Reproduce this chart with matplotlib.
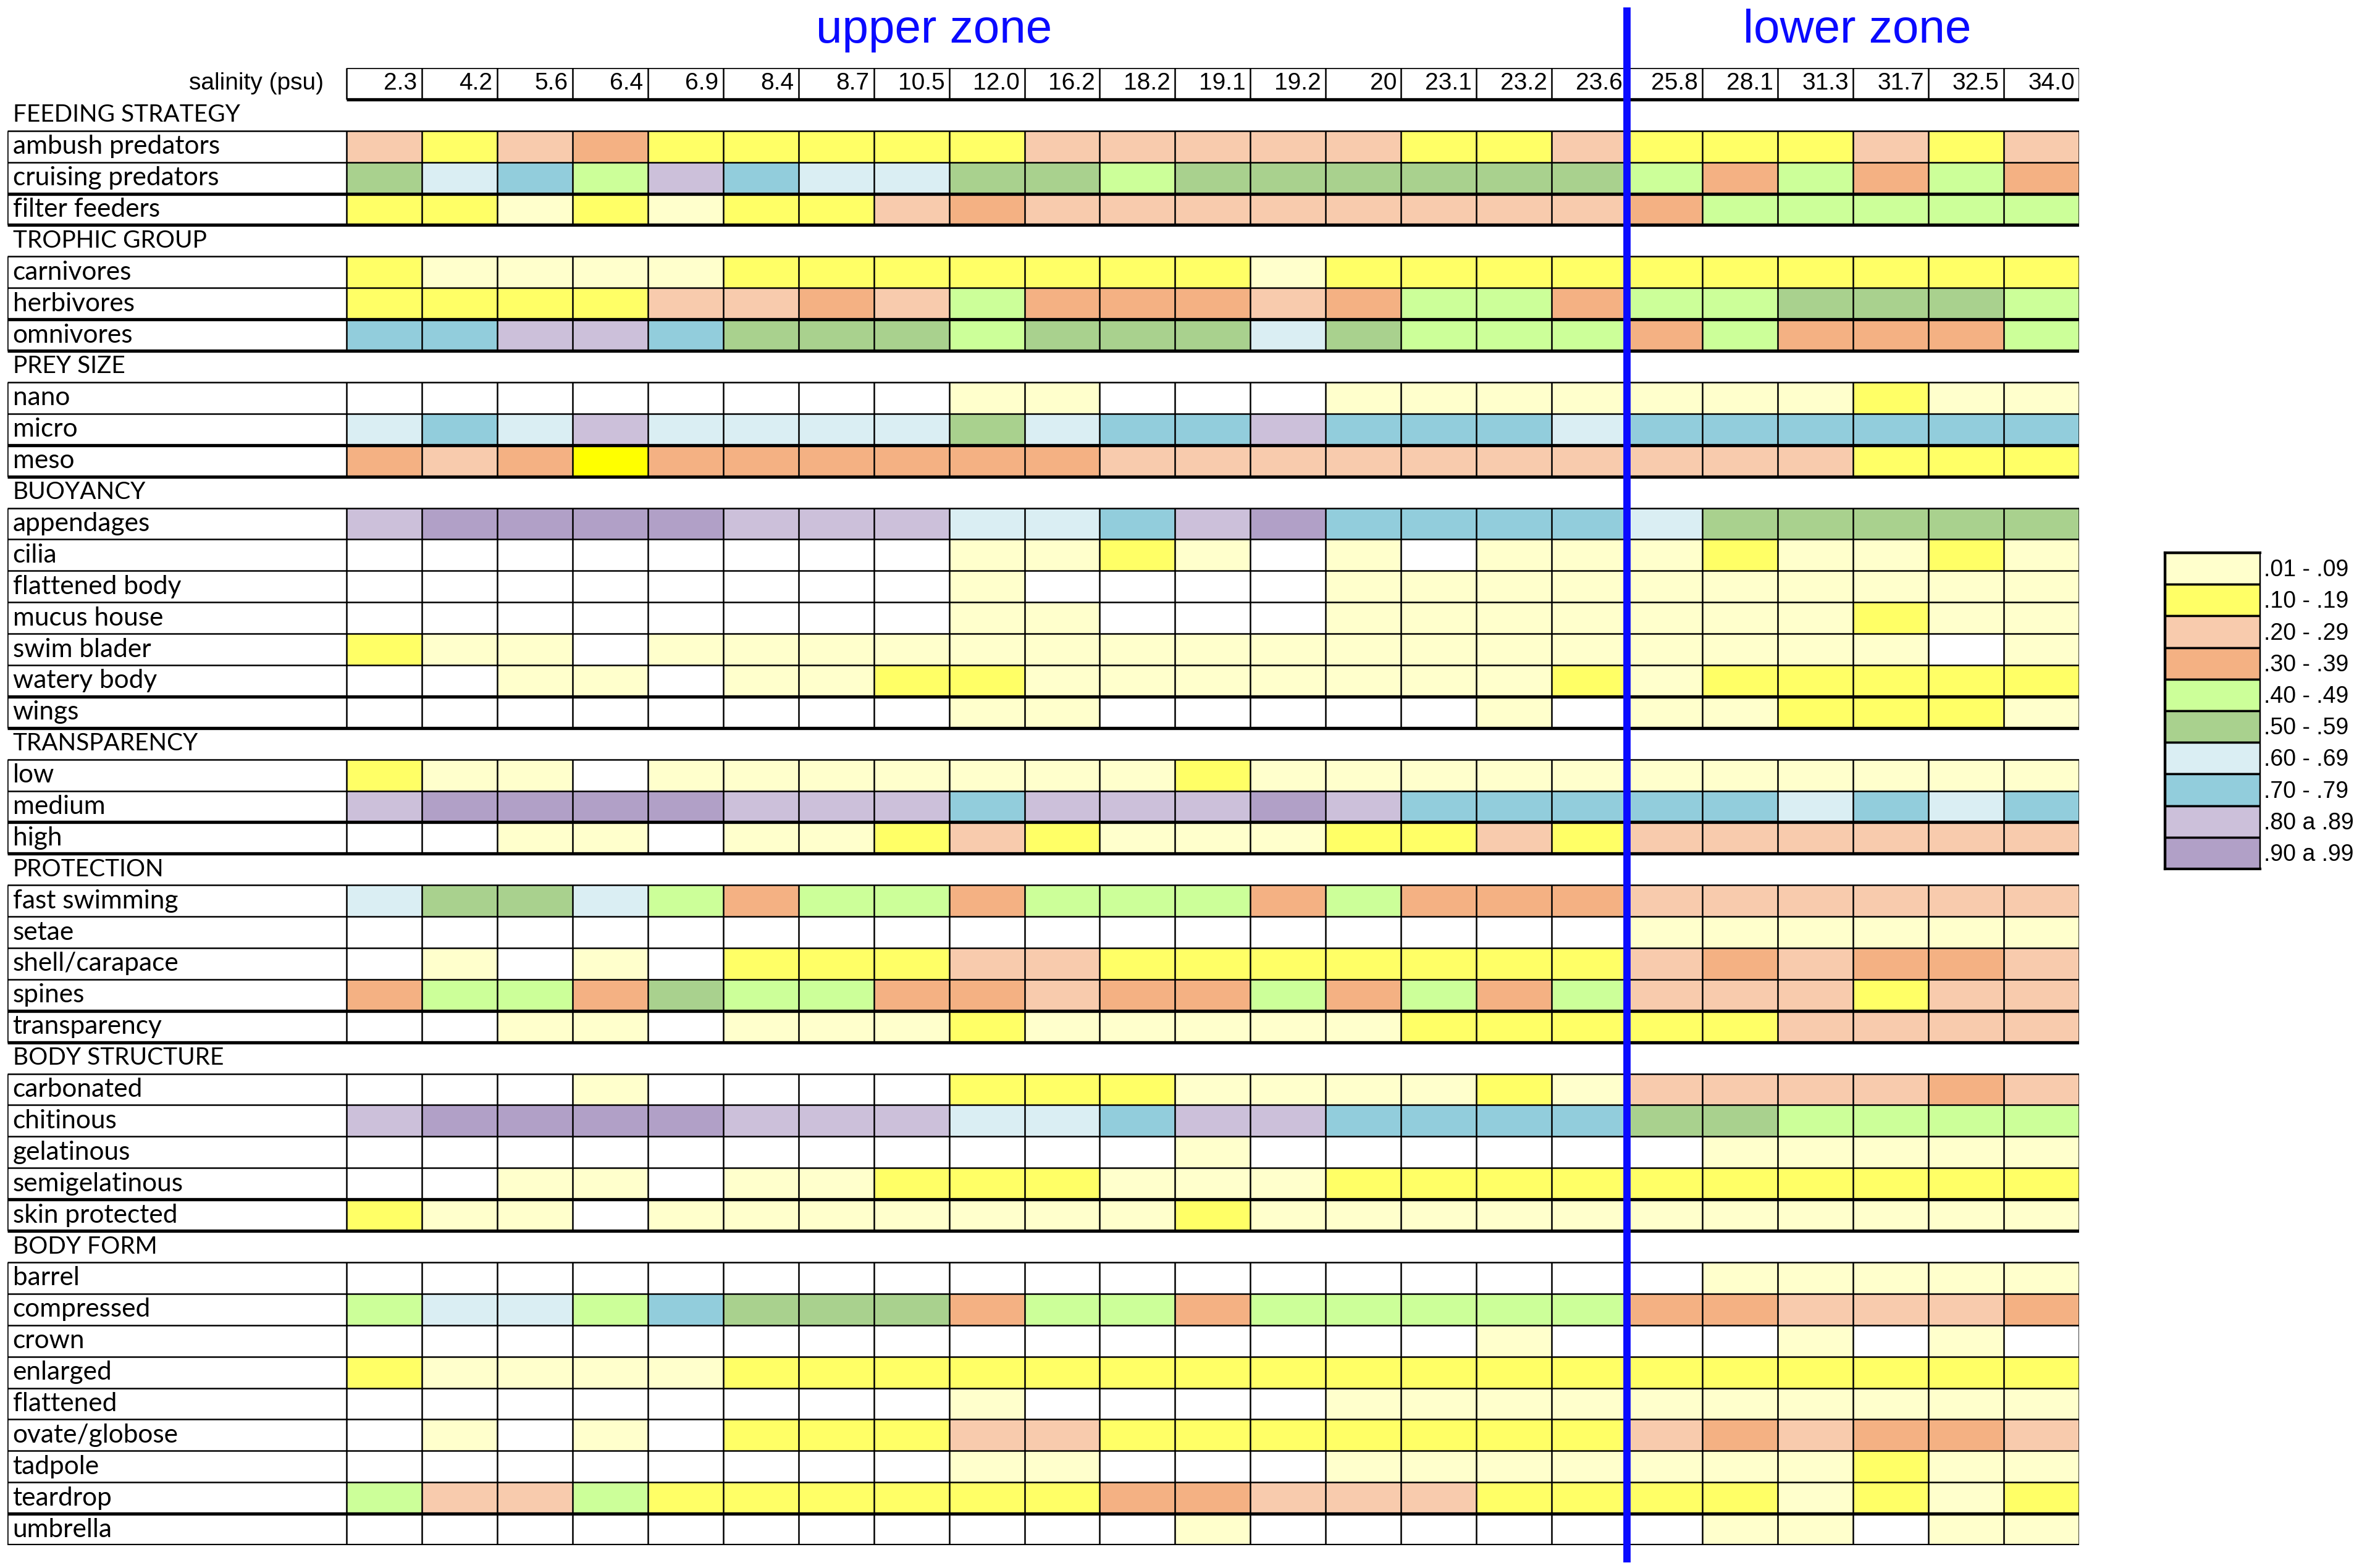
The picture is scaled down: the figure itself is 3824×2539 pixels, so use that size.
import numpy as np
import matplotlib
matplotlib.use("Agg")
import matplotlib.pyplot as plt
from matplotlib.colors import ListedColormap, BoundaryNorm

# salinity columns (psu)
salinity = ["2.3", "4.2", "5.6", "6.4", "6.9", "8.4", "8.7", "10.5", "12.0", "16.2", "18.2",
            "19.1", "19.2", "20", "23.1", "23.2", "23.6", "25.8", "28.1", "31.3", "31.7",
            "32.5", "34.0"]

# class codes: 0 = empty, 1 = .01-.09 ... 10 = .90-.99, 11 = odd bright yellow cell
class_labels = [".01 - .09", ".10 - .19", ".20 - .29", ".30 - .39", ".40 - .49",
                ".50 - .59", ".60 - .69", ".70 - .79", ".80 a .89", ".90 a .99"]
class_colors = ["#FFFFCC", "#FFFF66", "#F8CBAD", "#F4B183", "#CCFF99",
                "#A9D18E", "#DAEEF3", "#92CDDC", "#CCC0DA", "#B1A0C7"]

feeding_rows = ["ambush predators", "cruising predators", "filter feeders"]
feeding_vals = [
    [3, 2, 3, 4, 2, 2, 2, 2, 2, 3, 3, 3, 3, 3, 2, 2, 3, 2, 2, 2, 3, 2, 3],
    [6, 7, 8, 5, 9, 8, 7, 7, 6, 6, 5, 6, 6, 6, 6, 6, 6, 5, 4, 5, 4, 5, 4],
    [2, 2, 1, 2, 1, 2, 2, 3, 4, 3, 3, 3, 3, 3, 3, 3, 3, 4, 5, 5, 5, 5, 5],
]

trophic_rows = ["carnivores", "herbivores", "omnivores"]
trophic_vals = [
    [2, 1, 1, 1, 1, 2, 2, 2, 2, 2, 2, 2, 1, 2, 2, 2, 2, 2, 2, 2, 2, 2, 2],
    [2, 2, 2, 2, 3, 3, 4, 3, 5, 4, 4, 4, 3, 4, 5, 5, 4, 5, 5, 6, 6, 6, 5],
    [8, 8, 9, 9, 8, 6, 6, 6, 5, 6, 6, 6, 7, 6, 5, 5, 5, 4, 5, 4, 4, 4, 5],
]

prey_rows = ["nano", "micro", "meso"]
prey_vals = [
    [0, 0, 0, 0, 0, 0, 0, 0, 1, 1, 0, 0, 0, 1, 1, 1, 1, 1, 1, 1, 2, 1, 1],
    [7, 8, 7, 9, 7, 7, 7, 7, 6, 7, 8, 8, 9, 8, 8, 8, 7, 8, 8, 8, 8, 8, 8],
    [4, 3, 4, 11, 4, 4, 4, 4, 4, 4, 3, 3, 3, 3, 3, 3, 3, 3, 3, 3, 2, 2, 2],
]

buoy_rows = ["appendages", "cilia", "flattened body", "mucus house", "swim blader",
             "watery body", "wings"]
buoy_vals = [
    [9, 10, 10, 10, 10, 9, 9, 9, 7, 7, 8, 9, 10, 8, 8, 8, 8, 7, 6, 6, 6, 6, 6],
    [0, 0, 0, 0, 0, 0, 0, 0, 1, 1, 2, 1, 0, 1, 0, 1, 1, 1, 2, 1, 1, 2, 1],
    [0, 0, 0, 0, 0, 0, 0, 0, 1, 0, 0, 0, 0, 1, 1, 1, 1, 1, 1, 1, 1, 1, 1],
    [0, 0, 0, 0, 0, 0, 0, 0, 1, 1, 0, 0, 0, 1, 1, 1, 1, 1, 1, 1, 2, 1, 1],
    [2, 1, 1, 0, 1, 1, 1, 1, 1, 1, 1, 1, 1, 1, 1, 1, 1, 1, 1, 1, 1, 0, 1],
    [0, 0, 1, 1, 0, 1, 1, 2, 2, 1, 1, 1, 1, 1, 1, 1, 2, 1, 2, 2, 2, 2, 2],
    [0, 0, 0, 0, 0, 0, 0, 0, 1, 1, 0, 0, 0, 0, 0, 1, 0, 1, 1, 2, 2, 2, 1],
]

transp_rows = ["low", "medium", "high"]
transp_vals = [
    [2, 1, 1, 0, 1, 1, 1, 1, 1, 1, 1, 2, 1, 1, 1, 1, 1, 1, 1, 1, 1, 1, 1],
    [9, 10, 10, 10, 10, 9, 9, 9, 8, 9, 9, 9, 10, 9, 8, 8, 8, 8, 8, 7, 8, 7, 8],
    [0, 0, 1, 1, 0, 1, 1, 2, 3, 2, 1, 1, 1, 2, 2, 3, 2, 3, 3, 3, 3, 3, 3],
]

protect_rows = ["fast swimming", "setae", "shell/carapace", "spines", "transparency"]
protect_vals = [
    [7, 6, 6, 7, 5, 4, 5, 5, 4, 5, 5, 5, 4, 5, 4, 4, 4, 3, 3, 3, 3, 3, 3],
    [0, 0, 0, 0, 0, 0, 0, 0, 0, 0, 0, 0, 0, 0, 0, 0, 0, 1, 1, 1, 1, 1, 1],
    [0, 1, 0, 1, 0, 2, 2, 2, 3, 3, 2, 2, 2, 2, 2, 2, 2, 3, 4, 3, 4, 4, 3],
    [4, 5, 5, 4, 6, 5, 5, 4, 4, 3, 4, 4, 5, 4, 5, 4, 5, 3, 3, 3, 2, 3, 3],
    [0, 0, 1, 1, 0, 1, 1, 1, 2, 1, 1, 1, 1, 1, 2, 2, 2, 2, 2, 3, 3, 3, 3],
]

struct_rows = ["carbonated", "chitinous", "gelatinous", "semigelatinous", "skin protected"]
struct_vals = [
    [0, 0, 0, 1, 0, 0, 0, 0, 2, 2, 2, 1, 1, 1, 1, 2, 1, 3, 3, 3, 3, 4, 3],
    [9, 10, 10, 10, 10, 9, 9, 9, 7, 7, 8, 9, 9, 8, 8, 8, 8, 6, 6, 5, 5, 5, 5],
    [0, 0, 0, 0, 0, 0, 0, 0, 0, 0, 0, 1, 0, 0, 0, 0, 0, 0, 1, 1, 1, 1, 1],
    [0, 0, 1, 1, 0, 1, 1, 2, 2, 2, 1, 1, 1, 2, 2, 2, 2, 2, 2, 2, 2, 2, 2],
    [2, 1, 1, 0, 1, 1, 1, 1, 1, 1, 1, 2, 1, 1, 1, 1, 1, 1, 1, 1, 1, 1, 1],
]

form_rows = ["barrel", "compressed", "crown", "enlarged", "flattened", "ovate/globose",
             "tadpole", "teardrop", "umbrella"]
form_vals = [
    [0, 0, 0, 0, 0, 0, 0, 0, 0, 0, 0, 0, 0, 0, 0, 0, 0, 0, 1, 1, 1, 1, 1],
    [5, 7, 7, 5, 8, 6, 6, 6, 4, 5, 5, 4, 5, 5, 5, 5, 5, 4, 4, 3, 3, 3, 4],
    [0, 0, 0, 0, 0, 0, 0, 0, 0, 0, 0, 0, 0, 0, 0, 1, 0, 0, 0, 1, 0, 1, 0],
    [2, 1, 1, 1, 1, 2, 2, 2, 2, 2, 2, 2, 2, 2, 2, 2, 2, 2, 2, 2, 2, 2, 2],
    [0, 0, 0, 0, 0, 0, 0, 0, 1, 0, 0, 0, 0, 1, 1, 1, 1, 1, 1, 1, 1, 1, 1],
    [0, 1, 0, 1, 0, 2, 2, 2, 3, 3, 2, 2, 2, 2, 2, 2, 2, 3, 4, 3, 4, 4, 3],
    [0, 0, 0, 0, 0, 0, 0, 0, 1, 1, 0, 0, 0, 1, 1, 1, 1, 1, 1, 1, 2, 1, 1],
    [5, 3, 3, 5, 2, 2, 2, 2, 2, 2, 4, 4, 3, 3, 3, 2, 2, 2, 2, 1, 2, 1, 2],
    [0, 0, 0, 0, 0, 0, 0, 0, 0, 0, 0, 1, 0, 0, 0, 0, 0, 0, 1, 1, 0, 1, 1],
]

groups = [
    ("FEEDING STRATEGY", feeding_rows, feeding_vals),
    ("TROPHIC GROUP", trophic_rows, trophic_vals),
    ("PREY SIZE", prey_rows, prey_vals),
    ("BUOYANCY", buoy_rows, buoy_vals),
    ("TRANSPARENCY", transp_rows, transp_vals),
    ("PROTECTION", protect_rows, protect_vals),
    ("BODY STRUCTURE", struct_rows, struct_vals),
    ("BODY FORM", form_rows, form_vals),
]

ncol = len(salinity)
split_col = salinity.index("25.8")   # upper / lower zone boundary
label_w = 4.5                         # width of the label column in cell units

LABEL_FONT = ["Lato", "DejaVu Sans"]
NUM_FONT = ["Liberation Sans", "DejaVu Sans"]
THIN = 1.8
THICK = 3.8

# build the grid of slots (header row + group titles + data rows)
nslot = 1 + sum(1 + len(r) for _, r, _ in groups)
grid = np.full((nslot, ncol), np.nan)

fig = plt.figure(figsize=(38.24, 25.39), dpi=100)
ax = fig.add_axes([12 / 3824, 1 - 2502 / 2539, 3354 / 3824, 2392 / 2539])
ax.set_xlim(-label_w, ncol)
ax.set_ylim(nslot, 0)
ax.axis("off")

# header row with salinity values
ax.text(-0.3, 0.5, "salinity (psu)", ha="right", va="center", fontsize=28, family=NUM_FONT)
for c, s in enumerate(salinity):
    ax.text(c + 0.94, 0.5, s, ha="right", va="center", fontsize=28, family=NUM_FONT)
ax.vlines(np.arange(ncol + 1), 0, 1, colors="black", lw=THIN)
ax.hlines(0, 0, ncol, colors="black", lw=THIN)
ax.hlines(1, 0, ncol, colors="black", lw=THICK)

slot = 1
for title, rows, vals in groups:
    ax.text(-label_w + 0.07, slot + 0.5, title, ha="left", va="center",
            fontsize=28, family=LABEL_FONT)
    slot += 1
    first = slot
    for i, (name, v) in enumerate(zip(rows, vals)):
        grid[slot] = v
        ax.text(-label_w + 0.07, slot + 0.5, name, ha="left", va="center",
                fontsize=30.5, family=LABEL_FONT)
        slot += 1
    last = slot
    n = len(rows)
    # horizontal rules: thin between rows, thick above last row and under group
    for k in range(n + 1):
        lw = THICK if k >= n - 1 and k > 0 else THIN
        ax.hlines(first + k, -label_w, ncol, colors="black", lw=lw)
    ax.vlines(np.concatenate([[-label_w], np.arange(ncol + 1)]), first, last,
              colors="black", lw=THIN)

cmap = ListedColormap(["#FFFFFF"] + class_colors + ["#FFFF00"])
norm = BoundaryNorm(np.arange(-0.5, 12.5, 1), cmap.N)
ax.pcolormesh(np.arange(ncol + 1), np.arange(nslot + 1), np.ma.masked_invalid(grid),
              cmap=cmap, norm=norm, zorder=0)

# zone divider and titles
ax.plot([split_col, split_col], [-1.93, nslot + 0.55], color="#0A0AFF", lw=8.5,
        clip_on=False, solid_capstyle="butt", zorder=5)
ax.text(7.8, -0.8, "upper zone", ha="center", va="baseline", fontsize=55,
        color="#0A0AFF", family=NUM_FONT)
ax.text(20.05, -0.8, "lower zone", ha="center", va="baseline", fontsize=55,
        color="#0A0AFF", family=NUM_FONT)

# legend
lg = fig.add_axes([3505 / 3824, 1 - 1407 / 2539, 154 / 3824, 512 / 2539])
lg.barh(np.arange(len(class_colors)), 1, height=1, left=0, align="edge",
        color=class_colors, edgecolor="black", linewidth=2.5)
lg.set_xlim(0, 1)
lg.set_ylim(len(class_colors), 0)
lg.set_xticks([])
lg.set_yticks([])
for side in lg.spines.values():
    side.set_linewidth(3)
lg.spines["right"].set_linewidth(1)
for i, lab in enumerate(class_labels):
    lg.text(1.04, i + 0.55, lab, ha="left", va="center", fontsize=27,
            family=NUM_FONT, transform=lg.transData)

fig.savefig("out.png", dpi=100, facecolor="white")
